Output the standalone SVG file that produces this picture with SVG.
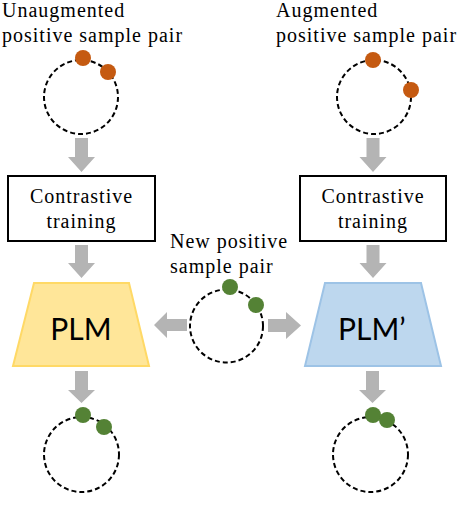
<svg xmlns="http://www.w3.org/2000/svg" width="458" height="526" viewBox="0 0 458 526">
<style>
.lbl{font-family:"Liberation Serif","Times New Roman",serif;font-size:20px;letter-spacing:1px;fill:#000}
.ring{fill:none;stroke:#000;stroke-width:2;stroke-dasharray:5 3}
.org{fill:#C55A11}
.grn{fill:#548235}
.arr{fill:#B4B4B4}
.box{fill:#fff;stroke:#000;stroke-width:2}
.plm{font-family:Lato,"Liberation Sans",Arial,sans-serif;font-size:30px;fill:#000}
</style>
<rect width="458" height="526" fill="#fff"/>
<g id="label-unaug">
<text class="lbl" x="2" y="17">Unaugmented</text>
<text class="lbl" x="2" y="42">positive sample pair</text>
</g>
<g id="label-aug">
<text class="lbl" x="276" y="17">Augmented</text>
<text class="lbl" x="276" y="42">positive sample pair</text>
</g>
<g id="pair-unaug">
<circle class="ring" cx="81" cy="97" r="37"/>
<circle class="org" cx="83" cy="58" r="8"/>
<circle class="org" cx="108" cy="72" r="8"/>
</g>
<g id="pair-aug">
<circle class="ring" cx="374" cy="97" r="37"/>
<circle class="org" cx="373" cy="60" r="8"/>
<circle class="org" cx="411" cy="90" r="8"/>
</g>
<g id="train-left">
<rect class="box" x="8" y="176" width="147" height="65"/>
<text class="lbl" x="81.5" y="203" text-anchor="middle">Contrastive</text>
<text class="lbl" x="81.5" y="228" text-anchor="middle">training</text>
</g>
<g id="train-right">
<rect class="box" x="300" y="176" width="146" height="65"/>
<text class="lbl" x="373" y="203" text-anchor="middle">Contrastive</text>
<text class="lbl" x="373" y="228" text-anchor="middle">training</text>
</g>
<g id="label-new">
<text class="lbl" x="170" y="248">New positive</text>
<text class="lbl" x="170" y="273">sample pair</text>
</g>
<g id="pair-new">
<circle class="ring" cx="226.5" cy="326" r="36.5"/>
<circle class="grn" cx="230" cy="287" r="8"/>
<circle class="grn" cx="256" cy="305" r="8"/>
</g>
<g id="plm">
<polygon points="34,283 129,283 149,366 13,366" fill="#FFE699" stroke="#FFD966" stroke-width="2"/>
<text class="plm" x="81" y="340" text-anchor="middle">PLM</text>
</g>
<g id="plm-prime">
<polygon points="325,283 421,283 441,366 305,366" fill="#BDD7EE" stroke="#9DC3E6" stroke-width="2"/>
<text class="plm" x="338" y="340">PLM’</text>
</g>
<g id="out-left">
<circle class="ring" cx="81.5" cy="454.5" r="37.5"/>
<circle class="grn" cx="83" cy="415" r="8"/>
<circle class="grn" cx="104" cy="427" r="8"/>
</g>
<g id="out-right">
<circle class="ring" cx="370.5" cy="454.5" r="37.5"/>
<circle class="grn" cx="373" cy="415" r="8"/>
<circle class="grn" cx="387" cy="420" r="8"/>
</g>
<g id="connectors">
<path class="arr" d="M75,138H88V157H95L81.5,172L68,157H75Z"/>
<path class="arr" d="M366.5,138H379.5V157H386.5L373,172L359.5,157H366.5Z"/>
<path class="arr" d="M75,245H88V263H95L81.5,278L68,263H75Z"/>
<path class="arr" d="M366.5,245H379.5V263H386.5L373,278L359.5,263H366.5Z"/>
<path class="arr" d="M75,371H88V390H95L81.5,403L68,390H75Z"/>
<path class="arr" d="M366,371H379V390H386L372.5,403L359,390H366Z"/>
<path class="arr" d="M187,319V331H167V338L154,325L167,312V319Z"/>
<path class="arr" d="M268,319V332H286V339L301,325.5L286,312V319Z"/>
</g>
</svg>
